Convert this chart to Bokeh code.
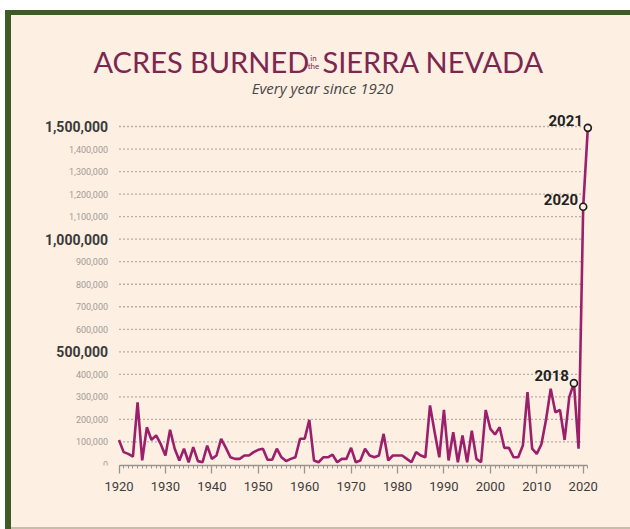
from bokeh.plotting import figure
from bokeh.models import SingleIntervalTicker
from bokeh.core.properties import value
from bokeh.embed import file_html
from bokeh.resources import INLINE

# ---------------- data ----------------
years = list(range(1920, 2022))
acres = [
    109000, 55000, 47000, 35000, 276000, 18000, 165000, 109000, 129000, 90000,   # 1920s
    40000, 154000, 70000, 18000, 70000, 10000, 77000, 15000, 10000, 84000,       # 1930s
    25000, 40000, 114000, 75000, 32000, 25000, 25000, 40000, 40000, 55000,       # 1940s
    65000, 70000, 21000, 21000, 70000, 32000, 15000, 25000, 32000, 114000,       # 1950s
    114000, 198000, 18000, 10000, 32000, 32000, 44000, 10000, 25000, 25000,      # 1960s
    74000, 10000, 18000, 70000, 40000, 32000, 40000, 136000, 18000, 40000,       # 1970s
    40000, 40000, 25000, 10000, 55000, 40000, 32000, 262000, 143000, 32000,      # 1980s
    242000, 18000, 143000, 10000, 129000, 10000, 150000, 25000, 10000, 242000,   # 1990s
    158000, 133000, 165000, 74000, 74000, 32000, 32000, 84000, 321000, 70000,    # 2000s
    47000, 90000, 200000, 336000, 232000, 242000, 109000, 299000, 361000, 70000, # 2010s
    1144000, 1494000,                                                            # 2020s
]
highlight_years = [2018, 2020, 2021]
highlight_labels = ["2018", "2020", "2021"]
y_ticks = [100000 * i for i in range(0, 16)]
y_tick_labels = ["{:,}".format(v) for v in y_ticks]
x_major_interval = 10

title_left = "ACRES BURNED"
title_small_top = "in"
title_small_bottom = "the"
title_right = "SIERRA NEVADA"
subtitle = "Every year since 1920"

# ---------------- layout / scales ----------------
W, H = 630, 529
FRAME_BOTTOM = 465          # page y of the frame bottom
ZERO_Y = 464                # page y of value 0
PX_PER_YR = 4.642
X1920 = 118.5               # page x of 1920
PX_PER_ACRE = 225.33 / 1e6

x_start = 1920 - X1920 / PX_PER_YR
x_end = x_start + W / PX_PER_YR
y_start = -(FRAME_BOTTOM - ZERO_Y) / PX_PER_ACRE
y_end = y_start + FRAME_BOTTOM / PX_PER_ACRE


def px_x(px):
    return x_start + px / PX_PER_YR


def px_y(py):
    return y_start + (FRAME_BOTTOM - py) / PX_PER_ACRE


CREAM = "#fdefe2"
GREEN = "#3e5b25"
LINE = "#9c1f6c"
TITLE = "#7c2650"

page_bg = ("linear-gradient(to bottom, #ffffff 0px, #ffffff 10px, transparent 10px), "
           "linear-gradient(to right, #ffffff 0px, #ffffff 5px, %s 5px, %s 11px, transparent 11px), "
           "linear-gradient(to bottom, %s 0px, %s 15px, %s 15px, %s 527px, #c6bea8 527px)"
           % (GREEN, GREEN, GREEN, GREEN, CREAM, CREAM))

p = figure(width=W, height=H, output_backend="svg", toolbar_location=None,
           x_range=(x_start, x_end), y_range=(y_start, y_end),
           y_axis_location=None, min_border_left=0, min_border_right=0,
           min_border_top=0, min_border_bottom=H - FRAME_BOTTOM,
           styles={"background": page_bg})
p.background_fill_alpha = 0
p.border_fill_alpha = 0
p.outline_line_color = None
p.grid.visible = False

# grid lines (dotted)
grid_vals = y_ticks[1:]
p.segment(x0=[1920] * len(grid_vals), x1=[2020] * len(grid_vals), y0=grid_vals, y1=grid_vals,
          line_color="#b8afa6", line_width=1.3, line_dash="2 2")

# y labels
major = [(v, t) for v, t in zip(y_ticks, y_tick_labels) if v % 500000 == 0 and v > 0]
minor = [(v, t) for v, t in zip(y_ticks, y_tick_labels) if not (v % 500000 == 0 and v > 0)]
p.text(x=[1920] * len(major), y=[m[0] for m in major], text=[m[1] for m in major],
       x_offset=-11, text_align="right", text_baseline="middle",
       text_font=value("Roboto"), text_font_style="bold", text_font_size="14px",
       text_color="#3a3a3a")
p.text(x=[1920] * len(minor), y=[m[0] for m in minor], text=[m[1] for m in minor],
       x_offset=-11, text_align="right", text_baseline="middle",
       text_font=value("Roboto"), text_font_size="9px", text_color="#a29b95")

# data line
p.line(years, acres, line_color=LINE, line_width=2.6)

hv = [acres[years.index(y)] for y in highlight_years]
p.scatter(highlight_years, hv, size=7, marker="circle", fill_color=CREAM,
          line_color="#1e1e1e", line_width=1.6)
p.text(x=highlight_years, y=hv, text=highlight_labels, x_offset=-5, y_offset=-2,
       text_align="right", text_baseline="bottom", text_font=value("Roboto"),
       text_font_style="bold", text_font_size="15px", text_color="#222222")

# titles
p.text(x=[px_x(93)], y=[px_y(61)], text=[title_left], text_align="left",
       text_baseline="alphabetic", text_font=value("Lato"), text_font_size="29px",
       text_color=TITLE)
p.text(x=[px_x(313)], y=[px_y(57)], text=[title_small_top], text_align="center",
       text_baseline="alphabetic", text_font=value("Lato"), text_font_size="8px",
       text_color=TITLE)
p.text(x=[px_x(313)], y=[px_y(65)], text=[title_small_bottom], text_align="center",
       text_baseline="alphabetic", text_font=value("Lato"), text_font_size="8px",
       text_color=TITLE)
p.text(x=[px_x(322)], y=[px_y(61)], text=[title_right], text_align="left",
       text_baseline="alphabetic", text_font=value("Lato"), text_font_size="29px",
       text_color=TITLE)
p.text(x=[px_x(322)], y=[px_y(87)], text=[subtitle], text_align="center",
       text_baseline="alphabetic", text_font=value("Open Sans"), text_font_style="italic",
       text_font_size="15px", text_color="#474747")

# x axis
ax = p.xaxis[0]
ax.ticker = SingleIntervalTicker(interval=x_major_interval, num_minor_ticks=10)
ax.bounds = (1920, 2021)
ax.axis_line_color = "#9a948f"
ax.axis_line_width = 1.5
ax.major_tick_line_color = "#9a948f"
ax.minor_tick_line_color = "#9a948f"
ax.major_tick_line_width = 1.3
ax.major_tick_in = 0
ax.major_tick_out = 8
ax.minor_tick_in = 0
ax.minor_tick_out = 3
ax.major_label_standoff = 8
ax.major_label_text_font = "Roboto"
ax.major_label_text_font_size = "13px"
ax.major_label_text_color = "#3d3d3d"

open("out.html", "w").write(file_html(p, INLINE))
